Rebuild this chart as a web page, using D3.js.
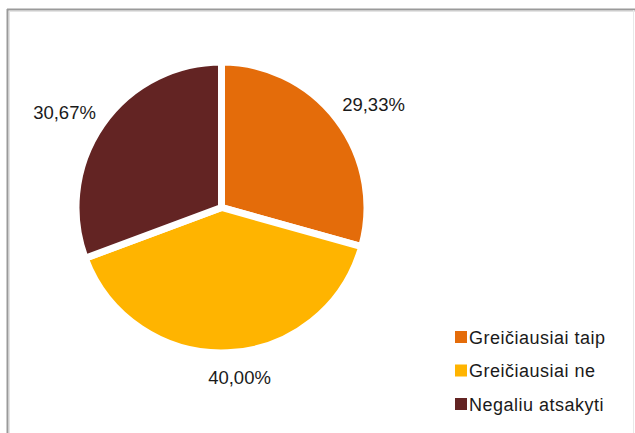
<!DOCTYPE html>
<html><head><meta charset="utf-8">
<script src="https://cdn.jsdelivr.net/npm/d3@7"></script>
<style>body{margin:0;background:#fff;}svg{display:block;}</style>
</head><body>
<script>
const categories = ["Greičiausiai taip", "Greičiausiai ne", "Negaliu atsakyti"];
const values = [29.33, 40.00, 30.67];
const valueLabels = ["29,33%", "40,00%", "30,67%"];
const colors = ["#E46C0A", "#FFB400", "#632423"];

const W = 635, H = 433;
const svg = d3.select("body").append("svg").attr("width", W).attr("height", H);
const font = "'Liberation Sans', Arial, sans-serif";

// frame
svg.append("line").attr("x1", 7).attr("x2", 635).attr("y1", 9.5).attr("y2", 9.5)
  .attr("stroke", "#9a9a9a").attr("stroke-width", 2);
svg.append("line").attr("x1", 9).attr("x2", 635).attr("y1", 11.5).attr("y2", 11.5)
  .attr("stroke", "#e4e4e4").attr("stroke-width", 1);
svg.append("line").attr("x1", 7.5).attr("x2", 7.5).attr("y1", 9).attr("y2", H)
  .attr("stroke", "#9a9a9a").attr("stroke-width", 2);
svg.append("line").attr("x1", 9.5).attr("x2", 9.5).attr("y1", 11).attr("y2", H)
  .attr("stroke", "#e4e4e4").attr("stroke-width", 1);
svg.append("line").attr("x1", 633.5).attr("x2", 633.5).attr("y1", 10).attr("y2", H)
  .attr("stroke", "#e8e8e8").attr("stroke-width", 1);

const cx = 221.5, cy = 207.5, r = 145.5;
const pie = d3.pie().sort(null).value(d => d)(values);
const arc = d3.arc().innerRadius(0).outerRadius(r);
const g = svg.append("g").attr("transform", `translate(${cx},${cy})`);
g.selectAll("path").data(pie).join("path")
  .attr("d", arc).attr("fill", (d, i) => colors[i])
  .attr("stroke", "#fff").attr("stroke-width", 7).attr("stroke-linejoin", "miter");

// labels
g.selectAll("text.lbl").data(pie).join("text")
  .attr("class", "lbl")
  .attr("x", (d, i) => [152, 18, -157][i])
  .attr("y", (d, i) => [-96.5, 176.5, -88.5][i])
  .attr("text-anchor", "middle")
  .attr("font-family", font).attr("font-size", 18.5).attr("fill", "#1a1a1a")
  .text((d, i) => valueLabels[i]);

// legend
const lg = svg.append("g").attr("transform", "translate(455,331)");
const items = lg.selectAll("g").data(categories).join("g")
  .attr("transform", (d, i) => `translate(0,${i * 33.5})`);
items.append("rect").attr("width", 12).attr("height", 12).attr("fill", (d, i) => colors[i]);
items.append("text").attr("x", 14).attr("y", 12.5)
  .attr("font-family", font).attr("font-size", 18).attr("letter-spacing", 0.5).attr("fill", "#1a1a1a")
  .text(d => d);
</script>
</body></html>
